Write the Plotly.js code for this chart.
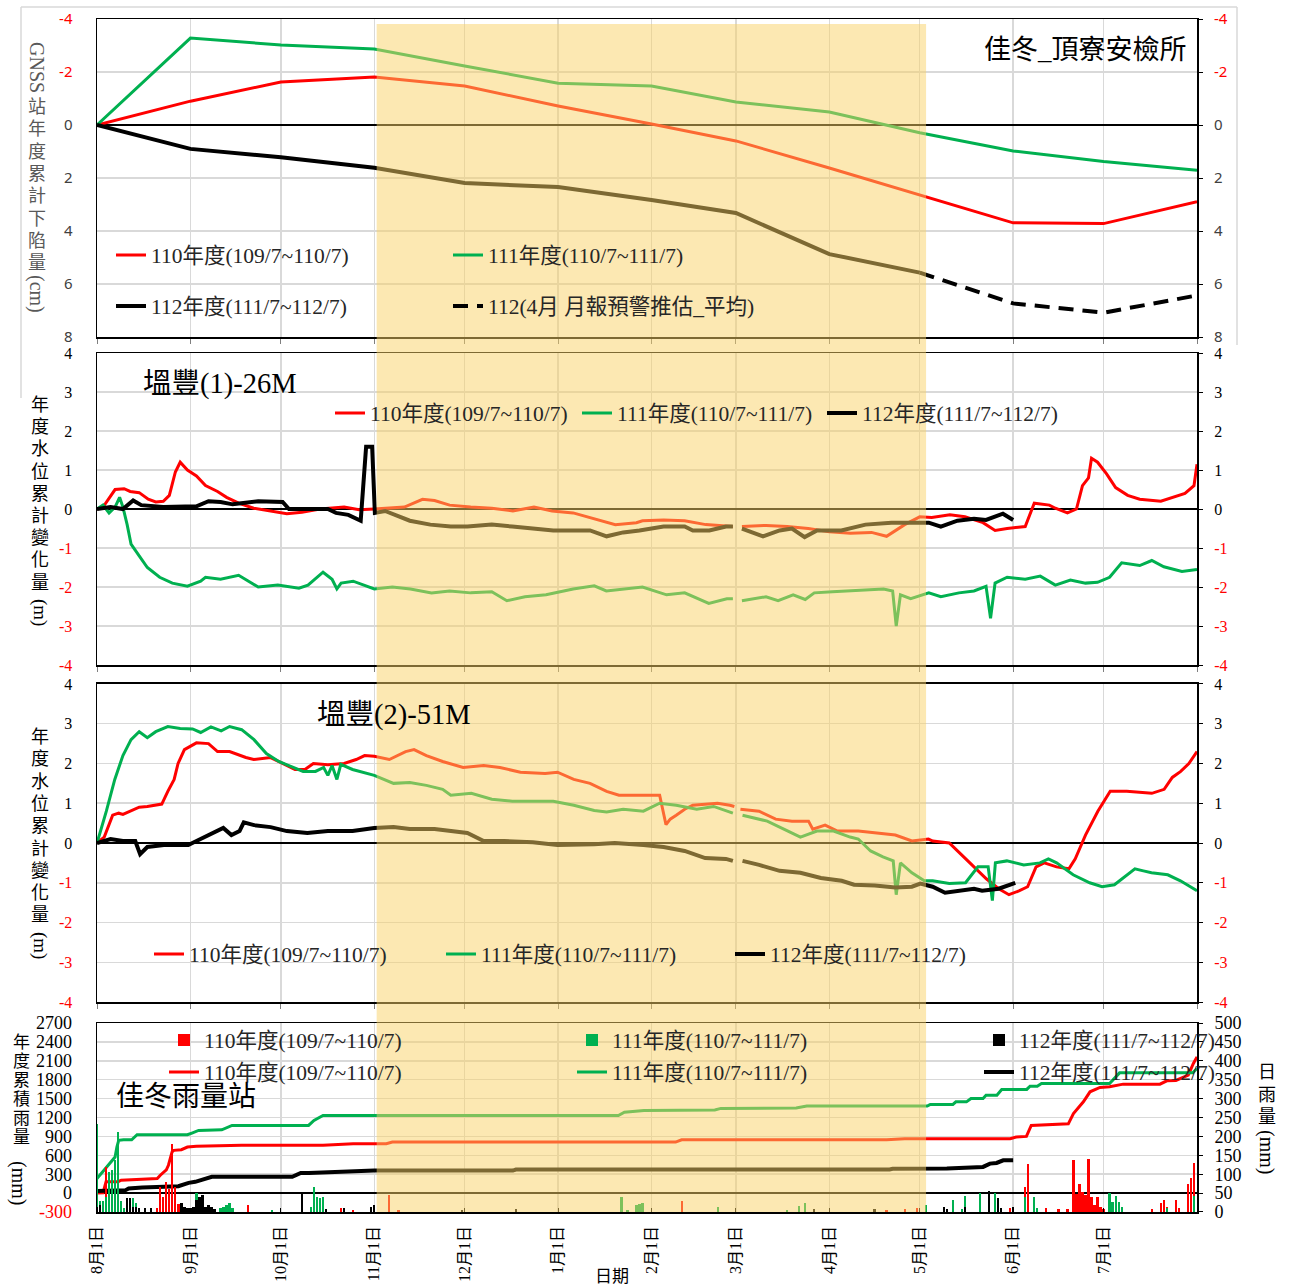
<!DOCTYPE html>
<html><head><meta charset="utf-8">
<script src="https://cdn.plot.ly/plotly-3.0.1.min.js"></script>
<style>html,body{margin:0;padding:0;background:#fff}#chart{width:1290px;height:1286px}</style>
</head><body><div id="chart"></div>
<script>
// ---------- x axis: day offset from 8月1日 ----------
const monthDays = [0,31,61,92,122,153,184,212,243,273,304,334,365];
const monthLabels = ['8月1日','9月1日','10月1日','11月1日','12月1日','1月1日','2月1日','3月1日','4月1日','5月1日','6月1日','7月1日',''];
const seriesNames = ['110年度(109/7~110/7)','111年度(110/7~111/7)','112年度(111/7~112/7)'];
const forecastName = '112(4月 月報預警推估_平均)';

// ---------- Panel 1: GNSS (cm) ----------
const gnssDays = [0,31,61,92,122,153,184,212,243,273,304,334,365];
const gnss110 = [0,-0.90,-1.62,-1.81,-1.47,-0.72,-0.04,0.60,1.62,2.64,3.69,3.72,2.89];
const gnss111 = [0,-3.28,-3.02,-2.87,-2.23,-1.58,-1.47,-0.87,-0.49,0.29,0.98,1.38,1.71];
const gnss112Days = [0,31,61,92,122,153,184,212,243,273];
const gnss112 = [0,0.90,1.22,1.61,2.19,2.34,2.83,3.32,4.87,5.57];
const forecastDays = [273,304,334,365];
const forecast112 = [5.57,6.73,7.08,6.43];

// ---------- Panel 2: 塭豐(1)-26M [day, m] ----------
const well1_110 = [[0,0],[2,0.05],[6,0.5],[9,0.52],[11,0.45],[14,0.42],[17,0.25],[19.5,0.18],[22,0.2],[24,0.35],[26,0.95],[27.6,1.2],[30,1.0],[33,0.85],[36,0.6],[40,0.45],[43,0.3],[47,0.15],[52,0.02],[58,-0.05],[63,-0.12],[68,-0.08],[74,0],[82,0.05],[87,-0.02],[92,0],[102,0.05],[108,0.25],[112,0.22],[117,0.1],[124,0.05],[131,0.02],[138,-0.05],[145,0.05],[151,-0.05],[158,-0.1],[165,-0.25],[172,-0.4],[179,-0.35],[181,-0.3],[188,-0.28],[195,-0.3],[202,-0.4],[209,-0.45],[211,-0.45],[212,null],[214,-0.45],[222,-0.42],[229,-0.45],[236,-0.5],[243,-0.58],[250,-0.62],[257,-0.6],[262,-0.7],[268,-0.4],[273,-0.2],[277,-0.22],[283,-0.15],[288,-0.2],[294,-0.35],[298,-0.55],[302,-0.5],[308,-0.45],[311,0.15],[316,0.1],[318,0.02],[322,-0.1],[325,0.0],[327,0.6],[329,0.8],[330,1.3],[332,1.2],[335,0.9],[338,0.55],[342,0.35],[346,0.25],[353,0.2],[357,0.3],[361,0.4],[364,0.6],[365,1.15]];
const well1_111 = [[0,0],[2,0.1],[4,-0.1],[6,0.05],[7.5,0.3],[8.6,0.05],[10,-0.4],[11.3,-0.9],[14,-1.2],[16.7,-1.5],[20.8,-1.75],[25,-1.9],[30,-1.98],[34.4,-1.85],[36,-1.75],[41,-1.8],[47,-1.7],[53.5,-2.0],[60,-1.95],[67,-2.03],[70,-1.95],[75,-1.62],[78,-1.8],[79.6,-2.05],[81,-1.9],[85,-1.85],[92,-2.05],[98,-2.0],[104,-2.05],[111,-2.15],[117,-2.1],[124,-2.15],[131,-2.12],[136,-2.35],[142,-2.25],[149,-2.2],[158,-2.05],[165,-1.97],[169,-2.1],[175,-2.05],[180,-2.0],[181,-2.0],[189,-2.2],[195,-2.15],[203,-2.42],[209,-2.3],[211,-2.3],[212,null],[214,-2.35],[222,-2.25],[226,-2.35],[231,-2.2],[235,-2.32],[238,-2.15],[244,-2.12],[253,-2.08],[261,-2.05],[264,-2.1],[265.2,-3.0],[266.6,-2.2],[270,-2.3],[276,-2.15],[280,-2.25],[286,-2.15],[291,-2.1],[295,-1.98],[296.5,-2.8],[298,-1.9],[302,-1.75],[308,-1.8],[313,-1.72],[318,-1.95],[323,-1.82],[328,-1.9],[332,-1.88],[336,-1.75],[340,-1.38],[346,-1.45],[350,-1.32],[354,-1.48],[360,-1.6],[365,-1.55]];
const well1_112 = [[0,0],[4.5,0.05],[8.6,0],[12,0.22],[14.7,0.1],[22,0.05],[33,0.07],[37,0.2],[41,0.18],[45,0.12],[53.5,0.2],[61.6,0.18],[63.7,0],[71,0],[76.6,0],[79.3,-0.1],[83.4,-0.15],[87.5,-0.3],[89.3,1.6],[91.3,1.6],[92.2,-0.1],[95.6,-0.05],[103.8,-0.3],[110.6,-0.4],[117.4,-0.45],[122.9,-0.45],[131,-0.4],[137.8,-0.45],[144.6,-0.5],[151.4,-0.55],[158.2,-0.55],[163.6,-0.55],[169.1,-0.7],[174.6,-0.6],[180,-0.55],[188,-0.45],[195,-0.45],[197.7,-0.55],[203.2,-0.55],[208.7,-0.45],[211,-0.45],[212,null],[214,-0.5],[221,-0.7],[226.5,-0.55],[230.6,-0.5],[234.8,-0.72],[238.9,-0.55],[247,-0.55],[255,-0.4],[263.6,-0.35],[270.4,-0.35],[276,-0.35],[280,-0.45],[285.5,-0.3],[291,-0.25],[295,-0.28],[300.6,-0.12],[304,-0.28]];

// ---------- Panel 3: 塭豐(2)-51M [day, m] ----------
const well2_110 = [[0,0],[2.4,0.15],[5.2,0.7],[7.2,0.75],[8.6,0.72],[11.3,0.8],[14,0.9],[16.7,0.92],[21.5,0.98],[23.5,1.3],[25.6,1.6],[26.9,2.0],[29,2.35],[33,2.52],[37,2.5],[40,2.3],[44,2.3],[49.4,2.15],[52,2.1],[57.6,2.15],[61.6,2.0],[65.7,1.85],[69,1.85],[71.8,2.0],[76.6,1.97],[82,2.0],[86,2.1],[88.8,2.2],[92,2.18],[97,2.1],[102.4,2.3],[105.2,2.35],[109.3,2.2],[114.7,2.05],[121.5,1.9],[128.3,1.95],[133.7,1.9],[140.5,1.78],[148.7,1.75],[152.8,1.78],[158.2,1.6],[163.6,1.5],[169.1,1.3],[173.2,1.2],[181.3,1.2],[186.7,1.2],[188.8,0.46],[190.2,0.6],[192.2,0.7],[195,0.85],[197.7,0.95],[201.8,0.98],[205.9,1.0],[210,0.95],[211.5,0.92],[212,null],[213.5,0.85],[219.7,0.8],[225.2,0.6],[230.6,0.55],[236.1,0.55],[237.5,0.35],[241.6,0.45],[245.7,0.3],[252.6,0.3],[259.4,0.25],[264.9,0.2],[270.4,0.05],[275.9,0.1],[277.3,0.05],[282.8,0],[286.9,-0.3],[291,-0.6],[295.1,-0.9],[299.2,-1.15],[302.6,-1.3],[306.1,-1.2],[308.8,-1.1],[311.6,-0.6],[314.3,-0.5],[318.4,-0.6],[322.5,-0.65],[324.6,-0.4],[328,0.2],[332.1,0.8],[336.2,1.3],[341.7,1.3],[345.9,1.28],[350,1.25],[354.1,1.35],[356.8,1.65],[359.6,1.8],[362.3,2.0],[365,2.3]];
const well2_111 = [[0,0],[3.1,0.8],[5.9,1.6],[8.6,2.2],[11.3,2.6],[14,2.8],[16.7,2.65],[19.5,2.8],[23.5,2.93],[27.6,2.88],[31.7,2.87],[34.4,2.78],[37.8,2.92],[41.2,2.82],[44,2.93],[48,2.85],[52.1,2.6],[56.2,2.25],[60.3,2.05],[64.4,1.92],[68.4,1.8],[72.5,1.8],[75.2,1.9],[76.6,1.7],[78,1.95],[79.6,1.6],[80.9,1.98],[84.8,1.85],[92,1.7],[98.4,1.5],[103.8,1.52],[109.3,1.45],[114.7,1.35],[117.4,1.2],[124.2,1.25],[131,1.1],[137.8,1.05],[144.6,1.05],[151.4,1.05],[158.2,0.95],[165,0.82],[169.1,0.78],[174.6,0.85],[181.3,0.8],[186.7,1.0],[192.2,0.95],[199,0.85],[204.6,0.92],[211,0.75],[212,null],[214.2,0.7],[222.4,0.55],[227.9,0.35],[233.4,0.15],[238.9,0.3],[244.4,0.3],[249.9,0.15],[252.6,0.1],[256.7,-0.2],[260.8,-0.35],[264.2,-0.45],[265.2,-1.3],[266.6,-0.5],[270.4,-0.75],[274.5,-0.95],[277.3,-0.95],[282.8,-1.02],[288.2,-1.0],[292.3,-0.6],[295.7,-0.6],[297.1,-1.45],[298.1,-0.5],[301.9,-0.45],[307.5,-0.55],[312.9,-0.5],[315.7,-0.4],[318.4,-0.5],[323.9,-0.8],[329.4,-1.0],[333.5,-1.1],[337.6,-1.05],[340.3,-0.9],[344.4,-0.65],[347.2,-0.7],[349.9,-0.75],[355.3,-0.8],[359.5,-0.95],[365,-1.2]];
const well2_112 = [[0,0],[4.5,0.1],[8.6,0.05],[12.7,0.05],[14.3,-0.28],[16.7,-0.1],[22.2,-0.05],[30.3,-0.05],[33,0.05],[37.1,0.2],[41.9,0.38],[44.6,0.2],[47.3,0.3],[48.7,0.52],[52.1,0.45],[57.6,0.4],[63,0.3],[69.8,0.25],[76.6,0.3],[84.8,0.3],[92,0.38],[98.4,0.4],[103.8,0.35],[112,0.35],[117.4,0.3],[122.9,0.25],[128.3,0.05],[135.1,0.05],[144.6,0.02],[152.8,-0.05],[165,-0.03],[171.8,0],[181.3,-0.05],[188,-0.1],[195,-0.2],[201.8,-0.38],[208.7,-0.4],[211,-0.45],[212,null],[214.2,-0.45],[219.7,-0.55],[226.5,-0.7],[233.4,-0.75],[240.2,-0.88],[247.1,-0.95],[251.2,-1.05],[258.1,-1.07],[264.9,-1.12],[270.4,-1.1],[273.2,-1.02],[277.3,-1.1],[281.4,-1.25],[286.9,-1.2],[291,-1.15],[293.7,-1.2],[299.2,-1.15],[304.7,-1.0]];

// ---------- Panel 4: 佳冬雨量站 ----------
// cumulative rainfall (mm) [day, mm]
const cum110 = [[0,0],[2,5],[3,179],[7,179],[8,205],[20,231],[21,284],[23,370],[23.7,442],[24.9,653],[25.5,679],[28,689],[30,731],[33,742],[48,758],[75,758],[85,784],[96,784],[98,810],[192,810],[194,847],[262,847],[268,863],[303,863],[305,889],[308.4,900],[310,1074],[315,1089],[322.3,1100],[324,1264],[327.3,1449],[329.5,1608],[332.8,1677],[336,1687],[340.5,1730],[352.7,1730],[355,1782],[358,1788],[360.5,1846],[362.1,1872],[363.8,2058],[365,2163]];
const cum111 = [[0,231],[1.4,310],[3.3,415],[5,521],[6,573],[6.6,731],[7.2,837],[8.8,847],[11.5,847],[13.3,926],[30,926],[31.5,953],[33.7,995],[41.4,1005],[44.8,1074],[70.2,1074],[72,1153],[75,1232],[173,1232],[175,1284],[180,1300],[181.5,1310],[205,1320],[207,1345],[232,1350],[235.5,1381],[275.5,1381],[276.5,1408],[284,1408],[285,1449],[288.5,1449],[290,1503],[294,1503],[295,1555],[298.6,1555],[300.2,1646],[308.5,1646],[309.6,1698],[312,1698],[313.4,1741],[336,1741],[339.3,1909],[363.6,1909],[365,1979]];
const cum112 = [[0,32],[9.5,47],[10.5,74],[15,89],[27,110],[30.4,163],[32.6,179],[35.9,231],[38.1,258],[64.8,258],[67.6,321],[70.3,321],[75.8,331],[82.4,337],[90,353],[92,358],[138,358],[139,374],[263,374],[264,385],[282,389],[287.5,405],[294,416],[296.3,468],[298.5,479],[300.7,521],[304,521]];
// daily rainfall (mm) [day, mm]
const rain110 = [[2,8],[3,119],[4,35],[20,10],[21,67],[22,40],[23,80],[24,62],[25,181],[26,66],[27,20],[50,18],[81,10],[82,8],[85,6],[97,45],[100,5],[194,30],[262,5],[268,8],[272,10],[303,10],[304,8],[308,67],[309,128],[311,10],[315,10],[319,8],[322,8],[324,137],[325,47],[326,74],[327,54],[328,45],[329,139],[330,39],[331,18],[332,40],[333,14],[334,8],[350,8],[353,23],[354,33],[355,14],[358,32],[359,10],[362,75],[363,89],[364,130]];
const rain111 = [[0,233],[1,30],[2,30],[3,40],[4,106],[5,110],[6,137],[7,211],[8,30],[9,10],[12,36],[13,23],[33,49],[34,36],[41,10],[42,14],[43,18],[44,23],[45,10],[58,5],[71,14],[72,67],[73,40],[74,38],[75,40],[174,39],[176,5],[179,18],[180,20],[181,25],[206,12],[229,5],[233,17],[235,23],[275,18],[284,33],[287,8],[288,42],[293,49],[298,49],[308,39],[311,39],[312,10],[336,49],[337,27],[338,42],[339,27],[340,14],[355,10],[364,42]];
const rain112 = [[0,14],[1,18],[10,36],[11,36],[12,14],[13,14],[14,10],[16,10],[18,10],[28,23],[29,14],[30,10],[31,10],[32,14],[33,32],[34,40],[35,45],[36,14],[37,18],[38,14],[39,7],[68,54],[76,7],[82,10],[91,14],[92,18],[121,5],[139,7],[238,7],[258,8],[281,12],[282,8],[288,12],[296,56],[299,36],[300,10],[304,12]];

// tick values
const gnssTicks = [-4,-2,0,2,4,6,8];
const wellTicks = [-4,-3,-2,-1,0,1,2,3,4];
const cumTicks = [-300,0,300,600,900,1200,1500,1800,2100,2400,2700];
const dayTicks = [0,50,100,150,200,250,300,350,400,450,500];

// ---------- styling ----------
const RED = '#FF0000', GREEN = '#00B050', BLACK = '#000000';
const SERIF = "'Liberation Serif','Noto Sans CJK TC',serif";
const SANS = "'Noto Sans','Open Sans',sans-serif";
const GRID = '#d9d9d9';
const PX = px => (px - 97) / 1100;
const PY = py => (1212 - py) / 1193;
const tt = v => v < 0 ? '<span style="color:#FF0000">' + v + '</span>' : String(v);

let legN = 0;
const legends = {};
function newLegend(textX, py) {
  legN++;
  const key = legN === 1 ? 'legend' : 'legend' + legN;
  legends[key] = {x: PX(textX - 42), y: PY(py), xanchor: 'left', yanchor: 'middle', orientation: 'h',
    bgcolor: 'rgba(0,0,0,0)', borderwidth: 0, font: {family: SERIF, size: 21.5, color: '#262626'}};
  return key;
}
function lineTrace(xs, ys, color, width, name, xa, ya, leg, dash) {
  return {type: 'scatter', mode: 'lines', x: xs, y: ys, name: name, xaxis: xa, yaxis: ya, legend: leg,
    line: {color: color, width: width, dash: dash || 'solid'}, connectgaps: false, hoverinfo: 'skip'};
}
const px = a => a.map(p => p[0]);
const py = a => a.map(p => p[1]);

const traces = [];
// panel 1
traces.push(lineTrace(gnssDays, gnss110, RED, 3, seriesNames[0], 'x', 'y', newLegend(153, 255)));
traces.push(lineTrace(gnssDays, gnss111, GREEN, 3, seriesNames[1], 'x', 'y', newLegend(490, 255)));
traces.push(lineTrace(gnss112Days, gnss112, BLACK, 4, seriesNames[2], 'x', 'y', newLegend(153, 306)));
traces.push(lineTrace(forecastDays, forecast112, BLACK, 4, forecastName, 'x', 'y', newLegend(490, 306), '15px,9px'));
// panel 2
traces.push(lineTrace(px(well1_110), py(well1_110), RED, 3, seriesNames[0], 'x2', 'y2', newLegend(372, 413)));
traces.push(lineTrace(px(well1_111), py(well1_111), GREEN, 3, seriesNames[1], 'x2', 'y2', newLegend(619, 413)));
traces.push(lineTrace(px(well1_112), py(well1_112), BLACK, 4, seriesNames[2], 'x2', 'y2', newLegend(864, 413)));
// panel 3
traces.push(lineTrace(px(well2_110), py(well2_110), RED, 3, seriesNames[0], 'x3', 'y3', newLegend(191, 954)));
traces.push(lineTrace(px(well2_111), py(well2_111), GREEN, 3, seriesNames[1], 'x3', 'y3', newLegend(483, 954)));
traces.push(lineTrace(px(well2_112), py(well2_112), BLACK, 4, seriesNames[2], 'x3', 'y3', newLegend(772, 954)));
// panel 4 bars (right axis)
[[rain110, RED, 206], [rain111, GREEN, 614], [rain112, BLACK, 1021]].forEach((d, i) => {
  traces.push({type: 'bar', x: px(d[0]), y: py(d[0]), width: 0.75, name: seriesNames[i], xaxis: 'x4', yaxis: 'y8',
    marker: {color: d[1], line: {width: 0}}, legend: newLegend(d[2], 1040), hoverinfo: 'skip'});
});
// panel 4 cumulative lines (left axis)
traces.push(lineTrace(px(cum110), py(cum110), RED, 3, seriesNames[0], 'x4', 'y4', newLegend(206, 1072)));
traces.push(lineTrace(px(cum111), py(cum111), GREEN, 3, seriesNames[1], 'x4', 'y4', newLegend(614, 1072)));
traces.push(lineTrace(px(cum112), py(cum112), BLACK, 4, seriesNames[2], 'x4', 'y4', newLegend(1021, 1072)));

// ---------- axes ----------
function xax(anchor, labels) {
  return {anchor: anchor, range: [0, 365], tickmode: 'array', tickvals: monthDays,
    ticktext: labels ? monthLabels : monthDays.map(() => ''), showticklabels: !!labels,
    showgrid: true, gridcolor: GRID, gridwidth: 1.5, zeroline: false,
    showline: true, linecolor: '#000', linewidth: 1.5, mirror: true,
    ticks: labels ? 'inside' : 'outside', ticklen: labels ? 4 : 5, tickcolor: labels ? '#000' : '#7f7f7f',
    tickangle: -90, tickfont: {family: SERIF, size: 16, color: '#000'}, ticklabelstandoff: 6, fixedrange: true};
}
function yleft(domain, range, ticks, font, zero) {
  return {domain: domain, range: range, tickmode: 'array', tickvals: ticks,
    ticktext: ticks.map(tt), tickfont: font, showgrid: true, gridcolor: GRID, gridwidth: 1.5,
    zeroline: zero, zerolinecolor: '#000', zerolinewidth: 1.5,
    showline: true, linecolor: '#000', linewidth: 1.5, mirror: true, ticks: '', ticklabelstandoff: 20, fixedrange: true};
}
function yright(over, range, ticks, font, colorNeg) {
  return {overlaying: over, side: 'right', range: range, tickmode: 'array', tickvals: ticks,
    ticktext: colorNeg ? ticks.map(tt) : ticks.map(String), tickfont: font, showgrid: false, zeroline: false,
    showline: false, ticks: 'outside', ticklen: 5, tickcolor: '#000', ticklabelstandoff: 8, fixedrange: true};
}
const fGnss = {family: SANS, size: 15, color: '#404040'};
const fSerif = {family: SERIF, size: 16, color: '#000'};
const fRain = {family: SERIF, size: 18, color: '#000'};

const layout = Object.assign({
  width: 1290, height: 1286, margin: {l: 97, r: 93, t: 19, b: 74},
  paper_bgcolor: '#fff', plot_bgcolor: '#fff', barmode: 'overlay', showlegend: true, bargap: 0,
  xaxis: xax('y', false), xaxis2: xax('y2', false), xaxis3: xax('y3', false), xaxis4: xax('y4', true),
  yaxis: Object.assign(yleft([0.7334, 1], [8, -4], gnssTicks, fGnss, true), {anchor: 'x'}),
  yaxis2: Object.assign(yleft([0.4585, 0.7200], [-4, 4], wellTicks, fSerif, true), {anchor: 'x2'}),
  yaxis3: Object.assign(yleft([0.1760, 0.4426], [-4, 4], wellTicks, fSerif, true), {anchor: 'x3'}),
  yaxis4: Object.assign(yleft([0, 0.1584], [-300, 2700], cumTicks, fRain, true), {anchor: 'x4'}),
  yaxis5: Object.assign(yright('y', [8, -4], gnssTicks, fGnss, true), {anchor: 'x'}),
  yaxis6: Object.assign(yright('y2', [-4, 4], wellTicks, fSerif, true), {anchor: 'x2'}),
  yaxis7: Object.assign(yright('y3', [-4, 4], wellTicks, fSerif, true), {anchor: 'x3'}),
  yaxis8: Object.assign(yright('y4', [0, 500], dayTicks, fRain, false), {anchor: 'x4'}),
  shapes: [
    {type: 'rect', xref: 'x', yref: 'paper', x0: 92.8, x1: 275.1, y0: 0, y1: PY(24),
      fillcolor: '#F9D165', opacity: 0.5, line: {width: 0}, layer: 'above'},
    {type: 'line', xref: 'paper', yref: 'paper', x0: PX(21), x1: PX(1237), y0: PY(7), y1: PY(7), line: {color: GRID, width: 1.5}, layer: 'below'},
    {type: 'line', xref: 'paper', yref: 'paper', x0: PX(21), x1: PX(21), y0: PY(7), y1: PY(398), line: {color: GRID, width: 1.5}, layer: 'below'},
    {type: 'line', xref: 'paper', yref: 'paper', x0: PX(1237), x1: PX(1237), y0: PY(7), y1: PY(345), line: {color: GRID, width: 1.5}, layer: 'below'}
  ],
  annotations: []
}, legends);

// empty traces so the right-hand axes are drawn
['y5', 'y6', 'y7'].forEach((ya, i) => {
  traces.push({type: 'scatter', mode: 'lines', x: [], y: [], xaxis: ['x', 'x2', 'x3'][i], yaxis: ya, showlegend: false, hoverinfo: 'skip'});
});

// ---------- text ----------
const A = layout.annotations;
function note(text, x, y, size, opts) {
  A.push(Object.assign({text: text, x: PX(x), y: PY(y), xref: 'paper', yref: 'paper', showarrow: false,
    xanchor: 'center', yanchor: 'middle', font: {family: SERIF, size: size, color: '#000'}}, opts || {}));
}
function vChars(str, x, y0, step, size, color) {
  Array.from(str).forEach((c, i) => note(c, x, y0 + i * step, size, {font: {family: SERIF, size: size, color: color}}));
}
function vRot(str, x, y, size, color) {
  note(str, x, y, size, {textangle: 90, font: {family: SERIF, size: size, color: color}});
}
// panel titles
note('佳冬_頂寮安檢所', 1189, 50, 27, {xanchor: 'right', font: {family: SERIF, size: 27, color: '#000'}});
note('塭豐(1)-26M', 141, 384, 28.5, {xanchor: 'left', font: {family: SERIF, size: 28.5, color: '#000'}});
note('塭豐(2)-51M', 315, 715, 28.5, {xanchor: 'left', font: {family: SERIF, size: 28.5, color: '#000'}});
note('佳冬雨量站', 114, 1096, 28, {xanchor: 'left', font: {family: SERIF, size: 28, color: '#000'}});
// vertical axis titles
vRot('GNSS', 37, 67, 20, '#595959');
vChars('站年度累計下陷量', 37, 107, 22.3, 18, '#595959');
vRot('(cm)', 37, 294, 20, '#595959');
vChars('年度水位累計變化量', 40, 405, 22.2, 18, '#000');
vRot('(m)', 40, 612, 19, '#000');
vChars('年度水位累計變化量', 40, 737, 22.3, 18, '#000');
vRot('(m)', 40, 945, 19, '#000');
vChars('年度累積雨量', 21, 1042, 19, 17, '#000');
vRot('(mm)', 19, 1183, 20, '#000');
vChars('日雨量', 1267, 1072, 22.5, 18, '#000');
vRot('(mm)', 1267, 1152, 20, '#000');
note('日期', 612, 1276, 17);

Plotly.newPlot('chart', traces, layout, {staticPlot: true, displayModeBar: false});
</script></body></html>
